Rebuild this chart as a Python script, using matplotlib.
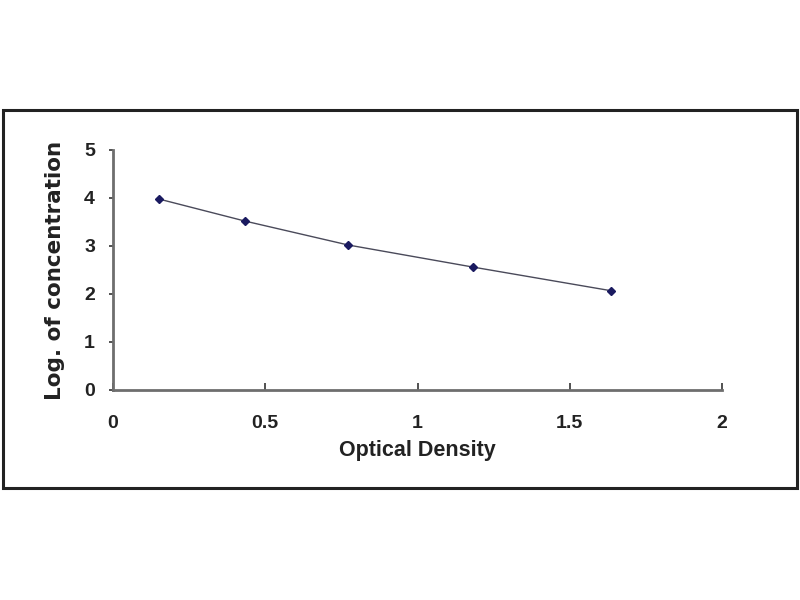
import matplotlib
matplotlib.use("Agg")
import matplotlib.pyplot as plt
from matplotlib.patches import Rectangle

optical_density = [0.15, 0.433, 0.773, 1.183, 1.634]
log_concentration = [3.98, 3.52, 3.02, 2.56, 2.07]
x_ticks = [0, 0.5, 1, 1.5, 2]
x_tick_labels = ["0", "0.5", "1", "1.5", "2"]
y_ticks = [0, 1, 2, 3, 4, 5]
y_tick_labels = ["0", "1", "2", "3", "4", "5"]

plt.rcParams['font.family'] = ['Liberation Sans', 'DejaVu Sans']
plt.rcParams['font.weight'] = 'bold'

fig = plt.figure(figsize=(8, 6), dpi=100)
fig.patch.set_facecolor('white')

# outer frame
fig.patches.append(Rectangle((3/800, 1-488/600), 794/800, 378/600,
                             transform=fig.transFigure, fill=False,
                             edgecolor='#222222', linewidth=2.2))

ax = fig.add_axes([113/800, 1-390/600, 609/800, 240/600])
ax.plot(optical_density, log_concentration, color='#4a4a5a', linewidth=1.0,
        marker='D', markersize=4, markerfacecolor='#1a1a60',
        markeredgecolor='#1a1a60')

ax.set_xlim(0, 2)
ax.set_ylim(0, 5)
for s in ['top', 'right']:
    ax.spines[s].set_visible(False)
for s in ['left', 'bottom']:
    ax.spines[s].set_color('#6e6e6e')
    ax.spines[s].set_linewidth(2.0)

ax.set_xticks(x_ticks)
ax.set_xticklabels(x_tick_labels, fontsize=14, fontweight='bold', color='#222222')
ax.set_yticks(y_ticks)
ax.set_yticklabels(y_tick_labels, fontsize=14, fontweight='bold', color='#222222')
ax.tick_params(axis='x', direction='in', length=5, width=1.2, color='#333333', pad=18)
ax.tick_params(axis='y', direction='out', length=3, width=1.2, color='#333333', pad=10)

ax.set_xlabel('Optical Density', fontsize=15.5, fontweight='bold', color='#222222', labelpad=6)
ax.set_ylabel('Log. of concentration', fontsize=15.5, fontweight='bold', color='#222222',
              labelpad=14, family=['DejaVu Sans'])

fig.savefig('out.png', dpi=100)
